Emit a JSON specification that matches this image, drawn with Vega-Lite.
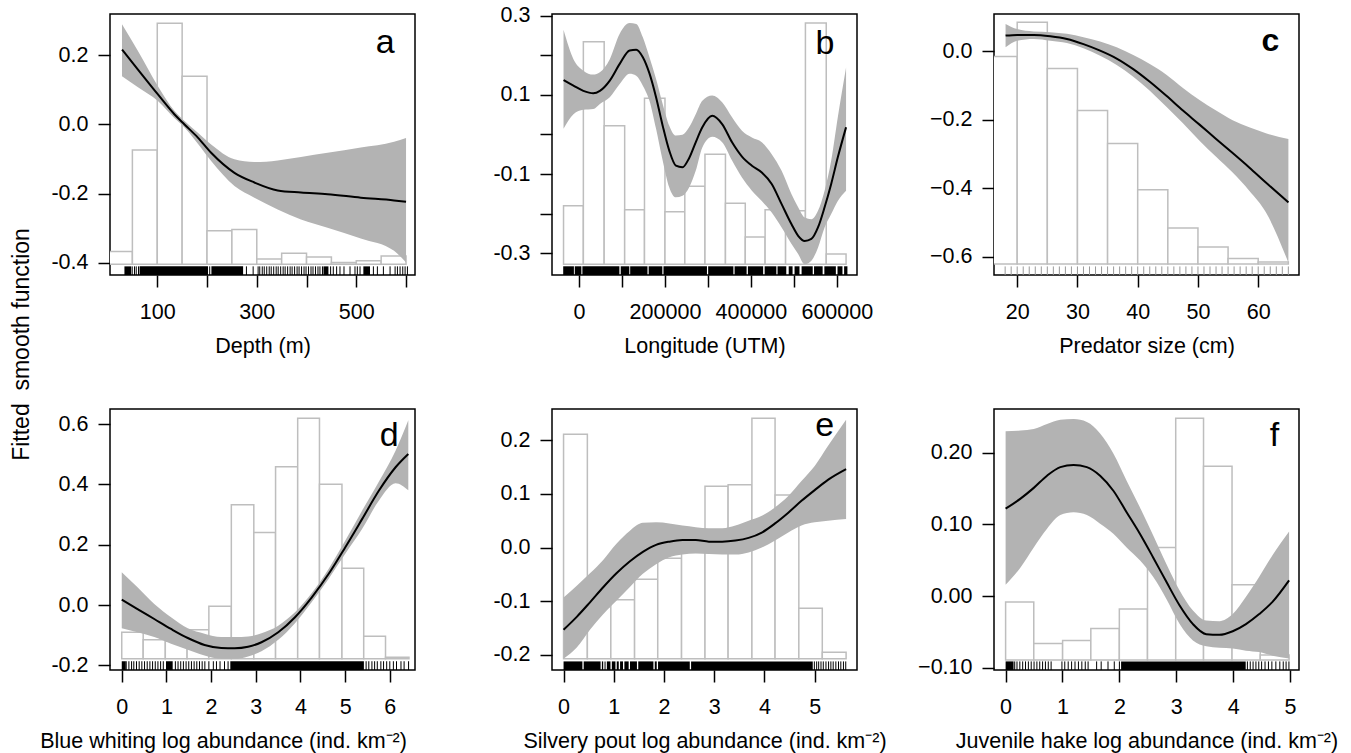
{
"$schema": "https://vega.github.io/schema/vega-lite/v6.json",
"padding": {"left": 9, "top": 3, "right": 5, "bottom": 5},
"background": "white",
"config": {
  "font": "Liberation Sans",
  "view": {"stroke": "black", "strokeWidth": 1.5},
  "axis": {"domain": false, "grid": false, "tickColor": "black", "tickWidth": 1.5, "tickSize": 12, "labelFontSize": 21.5, "labelColor": "black", "labelFont": "Liberation Sans", "titleFont": "Liberation Sans", "titleFontSize": 21.5, "titleFontWeight": "normal", "titleColor": "black", "labelPadding": 10, "labelFlush": false, "labelOverlap": false, "titlePadding": 13},
  "axisX": {"labelPadding": 14}
},
"datasets": {
  "ha": [{"x0":0,"x1":50,"top":-0.368},{"x0":50,"x1":100,"top":-0.074},{"x0":100,"x1":150,"top":0.293},{"x0":150,"x1":200,"top":0.140},{"x0":200,"x1":250,"top":-0.308},{"x0":250,"x1":300,"top":-0.304},{"x0":300,"x1":350,"top":-0.390},{"x0":350,"x1":400,"top":-0.373},{"x0":400,"x1":450,"top":-0.384},{"x0":450,"x1":500,"top":-0.400},{"x0":500,"x1":550,"top":-0.395},{"x0":550,"x1":600,"top":-0.381}],
  "ca": [{"x":29.1,"fit":0.217,"lo":0.140,"hi":0.290},{"x":61.2,"fit":0.159,"lo":0.108,"hi":0.213},{"x":101.3,"fit":0.087,"lo":0.068,"hi":0.111},{"x":134.8,"fit":0.029,"lo":0.018,"hi":0.039},{"x":154.8,"fit":0.000,"lo":-0.009,"hi":0.010},{"x":181.6,"fit":-0.038,"lo":-0.056,"hi":-0.024},{"x":208.3,"fit":-0.082,"lo":-0.106,"hi":-0.058},{"x":255.1,"fit":-0.140,"lo":-0.178,"hi":-0.101},{"x":295.2,"fit":-0.168,"lo":-0.212,"hi":-0.109},{"x":342.0,"fit":-0.191,"lo":-0.246,"hi":-0.104},{"x":388.8,"fit":-0.197,"lo":-0.275,"hi":-0.094},{"x":442.2,"fit":-0.202,"lo":-0.299,"hi":-0.082},{"x":509.1,"fit":-0.212,"lo":-0.330,"hi":-0.067},{"x":575.9,"fit":-0.220,"lo":-0.366,"hi":-0.050},{"x":600.0,"fit":-0.224,"lo":-0.400,"hi":-0.039}],
  "ra": [{"s":34,"e":47.6},{"s":64.4,"e":202},{"s":208.8,"e":272.5},{"s":434,"e":444},{"s":514.2,"e":527.6},{"t":49.6},{"t":54.3},{"t":57.7},{"t":62.3},{"t":205.4},{"t":279.2},{"t":292.7},{"t":302.7},{"t":306},{"t":311},{"t":315},{"t":320},{"t":325},{"t":329},{"t":334},{"t":339},{"t":343},{"t":348},{"t":353},{"t":357},{"t":362},{"t":367},{"t":371},{"t":376},{"t":381},{"t":385},{"t":390},{"t":395},{"t":399},{"t":404},{"t":409},{"t":413},{"t":418},{"t":423},{"t":427},{"t":432},{"t":448.4},{"t":453.8},{"t":460.5},{"t":467.2},{"t":475.3},{"t":487.4},{"t":497.4},{"t":502.1},{"t":507.5},{"t":534.4},{"t":542.4},{"t":554.5},{"t":567.9},{"t":578},{"t":582.7},{"t":588},{"t":593.4},{"t":598.1},{"t":602.8}],
  "hb": [{"x0":-36154,"x1":10000,"top":-0.180},{"x0":10000,"x1":58462,"top":0.234},{"x0":58462,"x1":106154,"top":0.022},{"x0":106154,"x1":152308,"top":-0.190},{"x0":152308,"x1":200000,"top":0.091},{"x0":200000,"x1":246154,"top":-0.195},{"x0":246154,"x1":293077,"top":-0.131},{"x0":293077,"x1":340769,"top":-0.050},{"x0":340769,"x1":386923,"top":-0.174},{"x0":386923,"x1":433077,"top":-0.259},{"x0":433077,"x1":480769,"top":-0.190},{"x0":480769,"x1":526923,"top":-0.193},{"x0":526923,"x1":575385,"top":0.281},{"x0":575385,"x1":621538,"top":-0.302}],
  "cb": [{"x":-36154,"fit":0.137,"lo":0.014,"hi":0.264},{"x":-13077,"fit":0.123,"lo":0.051,"hi":0.190},{"x":10000,"fit":0.110,"lo":0.062,"hi":0.161},{"x":33077,"fit":0.104,"lo":0.064,"hi":0.151},{"x":48462,"fit":0.110,"lo":0.077,"hi":0.157},{"x":71538,"fit":0.136,"lo":0.094,"hi":0.190},{"x":94615,"fit":0.178,"lo":0.127,"hi":0.254},{"x":117692,"fit":0.212,"lo":0.153,"hi":0.281},{"x":133077,"fit":0.214,"lo":0.148,"hi":0.279},{"x":148462,"fit":0.195,"lo":0.123,"hi":0.245},{"x":163846,"fit":0.154,"lo":0.085,"hi":0.195},{"x":179231,"fit":0.094,"lo":0.014,"hi":0.140},{"x":194615,"fit":0.022,"lo":-0.066,"hi":0.077},{"x":210000,"fit":-0.041,"lo":-0.134,"hi":0.022},{"x":225385,"fit":-0.079,"lo":-0.159,"hi":-0.003},{"x":240769,"fit":-0.083,"lo":-0.155,"hi":-0.001},{"x":256154,"fit":-0.060,"lo":-0.134,"hi":0.018},{"x":271538,"fit":-0.020,"lo":-0.092,"hi":0.051},{"x":286923,"fit":0.018,"lo":-0.033,"hi":0.085},{"x":310000,"fit":0.047,"lo":-0.006,"hi":0.098},{"x":333077,"fit":0.026,"lo":-0.020,"hi":0.081},{"x":356154,"fit":-0.020,"lo":-0.066,"hi":0.043},{"x":379231,"fit":-0.056,"lo":-0.109,"hi":0.009},{"x":402308,"fit":-0.079,"lo":-0.142,"hi":-0.008},{"x":425385,"fit":-0.096,"lo":-0.168,"hi":-0.020},{"x":448462,"fit":-0.125,"lo":-0.197,"hi":-0.050},{"x":471538,"fit":-0.176,"lo":-0.235,"hi":-0.092},{"x":494615,"fit":-0.227,"lo":-0.277,"hi":-0.151},{"x":510000,"fit":-0.256,"lo":-0.302,"hi":-0.184},{"x":525385,"fit":-0.269,"lo":-0.328,"hi":-0.210},{"x":540769,"fit":-0.264,"lo":-0.319,"hi":-0.214},{"x":556154,"fit":-0.235,"lo":-0.286,"hi":-0.193},{"x":571538,"fit":-0.184,"lo":-0.235,"hi":-0.142},{"x":586923,"fit":-0.125,"lo":-0.201,"hi":-0.066},{"x":602308,"fit":-0.058,"lo":-0.168,"hi":0.043},{"x":621538,"fit":0.018,"lo":-0.142,"hi":0.169}],
  "rb": [{"s":-36928,"e":-12000},{"s":-10000,"e":5385},{"s":7692,"e":93860},{"s":97000,"e":116940},{"s":119000,"e":159252},{"s":162000,"e":193872},{"s":196500,"e":297732},{"s":300500,"e":359280},{"s":362000,"e":390052},{"s":393000,"e":428520},{"s":432000,"e":459292},{"s":462000,"e":482372},{"s":488000,"e":497000},{"s":501600,"e":513140},{"s":518000,"e":543920},{"s":547000,"e":567000},{"s":571000,"e":597772},{"s":601620,"e":613160},{"s":617000,"e":624700}],
  "hc": [{"x0":15,"x1":20,"top":-0.015},{"x0":20,"x1":25,"top":0.085},{"x0":25,"x1":30,"top":-0.050},{"x0":30,"x1":35,"top":-0.173},{"x0":35,"x1":40,"top":-0.269},{"x0":40,"x1":45,"top":-0.404},{"x0":45,"x1":50,"top":-0.516},{"x0":50,"x1":55,"top":-0.571},{"x0":55,"x1":60,"top":-0.605},{"x0":60,"x1":65,"top":-0.615}],
  "cc": [{"x":18.07,"fit":0.046,"lo":0.012,"hi":0.080},{"x":20.00,"fit":0.048,"lo":0.031,"hi":0.065},{"x":22.75,"fit":0.048,"lo":0.036,"hi":0.058},{"x":25.50,"fit":0.044,"lo":0.031,"hi":0.056},{"x":28.25,"fit":0.036,"lo":0.024,"hi":0.051},{"x":31.00,"fit":0.021,"lo":0.009,"hi":0.041},{"x":33.76,"fit":0.002,"lo":-0.013,"hi":0.029},{"x":36.51,"fit":-0.021,"lo":-0.040,"hi":0.012},{"x":39.26,"fit":-0.052,"lo":-0.074,"hi":-0.011},{"x":42.01,"fit":-0.089,"lo":-0.115,"hi":-0.037},{"x":44.76,"fit":-0.130,"lo":-0.162,"hi":-0.068},{"x":47.51,"fit":-0.173,"lo":-0.210,"hi":-0.107},{"x":50.26,"fit":-0.214,"lo":-0.261,"hi":-0.142},{"x":53.01,"fit":-0.256,"lo":-0.308,"hi":-0.173},{"x":55.76,"fit":-0.297,"lo":-0.354,"hi":-0.201},{"x":58.51,"fit":-0.339,"lo":-0.407,"hi":-0.222},{"x":61.27,"fit":-0.383,"lo":-0.470,"hi":-0.239},{"x":65.01,"fit":-0.441,"lo":-0.617,"hi":-0.256}],
  "rc": [{"t":18},{"t":19},{"t":20},{"t":21},{"t":22},{"t":23},{"t":24},{"t":25},{"t":26},{"t":27},{"t":28},{"t":29},{"t":30},{"t":31},{"t":32},{"t":33},{"t":34},{"t":35},{"t":36},{"t":37},{"t":38},{"t":39},{"t":40},{"t":41},{"t":42},{"t":43},{"t":44},{"t":45},{"t":46},{"t":47},{"t":48},{"t":49},{"t":50},{"t":51},{"t":52},{"t":53},{"t":54},{"t":55},{"t":56},{"t":57},{"t":58},{"t":59},{"t":60},{"t":61},{"t":62},{"t":63},{"t":64},{"t":65}],
  "hd": [{"x0":0,"x1":0.480,"top":-0.09},{"x0":0.480,"x1":0.975,"top":-0.115},{"x0":0.975,"x1":1.463,"top":-0.12},{"x0":1.463,"x1":1.950,"top":-0.082},{"x0":1.950,"x1":2.453,"top":-0.004},{"x0":2.453,"x1":2.956,"top":0.333},{"x0":2.956,"x1":3.443,"top":0.241},{"x0":3.443,"x1":3.938,"top":0.459},{"x0":3.938,"x1":4.426,"top":0.619},{"x0":4.426,"x1":4.929,"top":0.401},{"x0":4.929,"x1":5.416,"top":0.122},{"x0":5.416,"x1":5.904,"top":-0.103},{"x0":5.904,"x1":6.429,"top":-0.173}],
  "cd": [{"x":0.000,"fit":0.018,"lo":-0.077,"hi":0.109},{"x":0.353,"fit":-0.013,"lo":-0.090,"hi":0.059},{"x":0.728,"fit":-0.046,"lo":-0.106,"hi":0.004},{"x":1.103,"fit":-0.079,"lo":-0.128,"hi":-0.040},{"x":1.478,"fit":-0.109,"lo":-0.148,"hi":-0.077},{"x":1.853,"fit":-0.132,"lo":-0.167,"hi":-0.095},{"x":2.228,"fit":-0.142,"lo":-0.178,"hi":-0.106},{"x":2.528,"fit":-0.143,"lo":-0.178,"hi":-0.106},{"x":2.828,"fit":-0.138,"lo":-0.170,"hi":-0.104},{"x":3.128,"fit":-0.123,"lo":-0.153,"hi":-0.093},{"x":3.503,"fit":-0.090,"lo":-0.115,"hi":-0.068},{"x":3.878,"fit":-0.040,"lo":-0.060,"hi":-0.024},{"x":4.254,"fit":0.026,"lo":0.010,"hi":0.040},{"x":4.629,"fit":0.103,"lo":0.087,"hi":0.120},{"x":5.004,"fit":0.192,"lo":0.170,"hi":0.214},{"x":5.379,"fit":0.285,"lo":0.252,"hi":0.313},{"x":5.754,"fit":0.379,"lo":0.346,"hi":0.409},{"x":6.129,"fit":0.457,"lo":0.404,"hi":0.512},{"x":6.414,"fit":0.501,"lo":0.381,"hi":0.613}],
  "rd": [{"s":0,"e":0.09},{"s":0.99,"e":1.14},{"s":2.43,"e":5.42},{"t":0.10},{"t":0.16},{"t":0.22},{"t":0.27},{"t":0.33},{"t":0.39},{"t":0.45},{"t":0.51},{"t":0.57},{"t":0.63},{"t":0.69},{"t":0.75},{"t":0.81},{"t":0.87},{"t":0.93},{"t":1.2},{"t":1.26},{"t":1.32},{"t":1.38},{"t":1.44},{"t":1.5},{"t":1.56},{"t":1.62},{"t":1.68},{"t":1.74},{"t":1.8},{"t":1.86},{"t":1.95},{"t":2.05},{"t":2.12},{"t":2.2},{"t":2.3},{"t":2.38},{"t":5.47},{"t":5.53},{"t":5.6},{"t":5.66},{"t":5.72},{"t":5.8},{"t":5.86},{"t":5.93},{"t":6.0},{"t":6.08},{"t":6.15},{"t":6.25},{"t":6.32},{"t":6.42}],
  "he": [{"x0":0,"x1":0.474,"top":0.211},{"x0":0.474,"x1":0.941,"top":-0.110},{"x0":0.941,"x1":1.414,"top":-0.097},{"x0":1.414,"x1":1.875,"top":-0.059},{"x0":1.875,"x1":2.349,"top":-0.02},{"x0":2.349,"x1":2.816,"top":0.0},{"x0":2.816,"x1":3.276,"top":0.114},{"x0":3.276,"x1":3.750,"top":0.117},{"x0":3.750,"x1":4.211,"top":0.241},{"x0":4.211,"x1":4.684,"top":0.098},{"x0":4.684,"x1":5.151,"top":-0.113},{"x0":5.151,"x1":5.625,"top":-0.195}],
  "ce": [{"x":0.000,"fit":-0.153,"lo":-0.207,"hi":-0.093},{"x":0.263,"fit":-0.129,"lo":-0.186,"hi":-0.071},{"x":0.526,"fit":-0.102,"lo":-0.153,"hi":-0.048},{"x":0.789,"fit":-0.074,"lo":-0.124,"hi":-0.023},{"x":1.053,"fit":-0.048,"lo":-0.099,"hi":0.007},{"x":1.316,"fit":-0.026,"lo":-0.074,"hi":0.031},{"x":1.579,"fit":-0.008,"lo":-0.049,"hi":0.046},{"x":1.842,"fit":0.005,"lo":-0.031,"hi":0.047},{"x":2.105,"fit":0.011,"lo":-0.018,"hi":0.045},{"x":2.368,"fit":0.014,"lo":-0.013,"hi":0.041},{"x":2.632,"fit":0.014,"lo":-0.011,"hi":0.038},{"x":2.895,"fit":0.011,"lo":-0.012,"hi":0.036},{"x":3.158,"fit":0.011,"lo":-0.013,"hi":0.036},{"x":3.421,"fit":0.013,"lo":-0.013,"hi":0.041},{"x":3.684,"fit":0.018,"lo":-0.009,"hi":0.050},{"x":3.947,"fit":0.028,"lo":0.000,"hi":0.059},{"x":4.211,"fit":0.045,"lo":0.013,"hi":0.075},{"x":4.474,"fit":0.065,"lo":0.028,"hi":0.096},{"x":4.737,"fit":0.087,"lo":0.041,"hi":0.124},{"x":5.000,"fit":0.107,"lo":0.047,"hi":0.152},{"x":5.263,"fit":0.126,"lo":0.050,"hi":0.189},{"x":5.625,"fit":0.146,"lo":0.053,"hi":0.238}],
  "re": [{"s":0,"e":0.375},{"s":0.401,"e":0.737},{"s":0.763,"e":0.789},{"s":0.816,"e":0.836},{"s":0.862,"e":0.934},{"s":0.961,"e":1.033},{"s":1.059,"e":1.099},{"s":1.125,"e":1.184},{"s":1.211,"e":1.296},{"s":1.323,"e":1.461},{"s":1.487,"e":1.789},{"s":1.816,"e":1.855},{"s":1.881,"e":2.513},{"s":2.539,"e":4.961},{"t":4.993},{"t":5.039},{"t":5.079},{"t":5.125},{"t":5.171},{"t":5.224},{"t":5.276},{"t":5.322},{"t":5.368},{"t":5.421},{"t":5.474},{"t":5.520},{"t":5.572},{"t":5.618}],
  "hf": [{"x0":0,"x1":0.495,"top":-0.008},{"x0":0.495,"x1":1.002,"top":-0.066},{"x0":1.002,"x1":1.498,"top":-0.062},{"x0":1.498,"x1":1.999,"top":-0.045},{"x0":1.999,"x1":2.494,"top":-0.018},{"x0":2.494,"x1":2.990,"top":0.068},{"x0":2.990,"x1":3.479,"top":0.248},{"x0":3.479,"x1":3.980,"top":0.181},{"x0":3.980,"x1":4.476,"top":0.016},{"x0":4.476,"x1":4.983,"top":-0.082}],
  "cf": [{"x":0.000,"fit":0.122,"lo":0.016,"hi":0.230},{"x":0.262,"fit":0.136,"lo":0.040,"hi":0.231},{"x":0.495,"fit":0.151,"lo":0.068,"hi":0.233},{"x":0.728,"fit":0.168,"lo":0.094,"hi":0.240},{"x":0.962,"fit":0.180,"lo":0.113,"hi":0.246},{"x":1.195,"fit":0.183,"lo":0.117,"hi":0.247},{"x":1.428,"fit":0.180,"lo":0.113,"hi":0.243},{"x":1.661,"fit":0.168,"lo":0.101,"hi":0.227},{"x":1.894,"fit":0.147,"lo":0.087,"hi":0.199},{"x":2.127,"fit":0.117,"lo":0.068,"hi":0.161},{"x":2.360,"fit":0.087,"lo":0.050,"hi":0.124},{"x":2.593,"fit":0.054,"lo":0.027,"hi":0.085},{"x":2.826,"fit":0.020,"lo":-0.004,"hi":0.045},{"x":3.059,"fit":-0.013,"lo":-0.039,"hi":0.008},{"x":3.293,"fit":-0.039,"lo":-0.062,"hi":-0.020},{"x":3.526,"fit":-0.053,"lo":-0.070,"hi":-0.034},{"x":3.759,"fit":-0.054,"lo":-0.072,"hi":-0.035},{"x":3.992,"fit":-0.049,"lo":-0.073,"hi":-0.025},{"x":4.225,"fit":-0.039,"lo":-0.076,"hi":-0.001},{"x":4.458,"fit":-0.025,"lo":-0.078,"hi":0.027},{"x":4.691,"fit":-0.008,"lo":-0.083,"hi":0.057},{"x":4.983,"fit":0.022,"lo":-0.087,"hi":0.090}],
  "rf": [{"s":0,"e":0.14},{"s":2.03,"e":4.22},{"t":0.16},{"t":0.2},{"t":0.25},{"t":0.3},{"t":0.35},{"t":0.4},{"t":0.45},{"t":0.5},{"t":0.55},{"t":0.6},{"t":0.65},{"t":0.7},{"t":0.75},{"t":0.8},{"t":0.99},{"t":1.04},{"t":1.1},{"t":1.16},{"t":1.22},{"t":1.28},{"t":1.34},{"t":1.4},{"t":1.45},{"t":1.6},{"t":1.68},{"t":1.8},{"t":1.91},{"t":2.0},{"t":4.25},{"t":4.3},{"t":4.35},{"t":4.4},{"t":4.45},{"t":4.5},{"t":4.56},{"t":4.62},{"t":4.68},{"t":4.75},{"t":4.82},{"t":4.88},{"t":4.93},{"t":4.98}]
},
"columns": 3,
"spacing": {"row": 134, "column": 137},
"bounds": "flush",
"concat": [
{
 "width": 305, "height": 261,
 "layer": [
  {"data": {"name": "ha"}, "mark": {"type": "rect", "fill": "white", "stroke": "#bebebe", "strokeWidth": 1.5, "clip": true},
   "encoding": {
    "x": {"field": "x0", "type": "quantitative", "scale": {"domain": [5, 618], "nice": false, "zero": false}, "axis": {"title": "Depth (m)", "values": [100,200,300,400,500,600], "labelExpr": "datum.value == 100 || datum.value == 300 || datum.value == 500 ? datum.label : ''"}},
    "x2": {"field": "x1"},
    "y": {"field": "top", "type": "quantitative", "scale": {"domain": [-0.436, 0.32], "nice": false, "zero": false}, "axis": {"title": "Fitted\u00a0 smooth function", "titleFontSize": 23, "titleX": -89, "titleY": 330, "titleBaseline": "middle", "values": [-0.4,-0.3,-0.2,-0.1,0,0.1,0.2,0.3], "format": ".1f", "labelExpr": "abs(round(datum.value*10)) % 2 == 0 ? replace(datum.label, '\u2212', '-') : ''"}},
    "y2": {"datum": -0.405}}},
  {"data": {"name": "ca"}, "mark": {"type": "area", "color": "#b3b3b3", "opacity": 1, "interpolate": "monotone", "clip": true},
   "encoding": {"x": {"field": "x", "type": "quantitative"}, "y": {"field": "lo", "type": "quantitative"}, "y2": {"field": "hi"}}},
  {"data": {"name": "ca"}, "mark": {"type": "line", "color": "black", "strokeWidth": 2, "interpolate": "monotone", "clip": true},
   "encoding": {"x": {"field": "x", "type": "quantitative"}, "y": {"field": "fit", "type": "quantitative"}}},
  {"data": {"name": "ra"}, "transform": [{"filter": "isValid(datum.s)"}], "mark": {"type": "rect", "color": "black", "clip": true},
   "encoding": {"x": {"field": "s", "type": "quantitative"}, "x2": {"field": "e"}, "y": {"datum": -0.436}, "y2": {"datum": -0.411}}},
  {"data": {"name": "ra"}, "transform": [{"filter": "isValid(datum.t)"}], "mark": {"type": "rule", "color": "black", "strokeWidth": 1, "clip": true},
   "encoding": {"x": {"field": "t", "type": "quantitative"}, "y": {"datum": -0.436}, "y2": {"datum": -0.411}}},
  {"data": {"values": [{"x": 577, "y": 0.208, "k": "a"}]}, "mark": {"type": "text", "align": "right", "baseline": "alphabetic", "fontSize": 34, "color": "black"},
   "encoding": {"x": {"field": "x", "type": "quantitative"}, "y": {"field": "y", "type": "quantitative"}, "text": {"field": "k"}}}
 ]
},
{
 "width": 305, "height": 261,
 "layer": [
  {"data": {"name": "hb"}, "mark": {"type": "rect", "fill": "white", "stroke": "#bebebe", "strokeWidth": 1.5, "clip": true},
   "encoding": {
    "x": {"field": "x0", "type": "quantitative", "scale": {"domain": [-63000, 647000], "nice": false, "zero": false}, "axis": {"title": "Longitude (UTM)", "values": [0,100000,200000,300000,400000,500000,600000], "format": "d", "labelExpr": "datum.value % 200000 == 0 ? datum.label : ''"}},
    "x2": {"field": "x1"},
    "y": {"field": "top", "type": "quantitative", "scale": {"domain": [-0.355, 0.304], "nice": false, "zero": false}, "axis": {"title": null, "values": [-0.3,-0.2,-0.1,0,0.1,0.2,0.3], "format": ".1f", "labelExpr": "abs(round(datum.value*10)) % 2 == 1 ? replace(datum.label, '\u2212', '-') : ''"}},
    "y2": {"datum": -0.328}}},
  {"data": {"name": "cb"}, "mark": {"type": "area", "color": "#b3b3b3", "opacity": 1, "interpolate": "monotone", "clip": true},
   "encoding": {"x": {"field": "x", "type": "quantitative"}, "y": {"field": "lo", "type": "quantitative"}, "y2": {"field": "hi"}}},
  {"data": {"name": "cb"}, "mark": {"type": "line", "color": "black", "strokeWidth": 2, "interpolate": "monotone", "clip": true},
   "encoding": {"x": {"field": "x", "type": "quantitative"}, "y": {"field": "fit", "type": "quantitative"}}},
  {"data": {"name": "rb"}, "transform": [{"filter": "isValid(datum.s)"}], "mark": {"type": "rect", "color": "black", "clip": true},
   "encoding": {"x": {"field": "s", "type": "quantitative"}, "x2": {"field": "e"}, "y": {"datum": -0.355}, "y2": {"datum": -0.333}}},
  {"data": {"values": [{"x": 594615, "y": 0.203, "k": "b"}]}, "mark": {"type": "text", "align": "right", "baseline": "alphabetic", "fontSize": 34, "color": "black"},
   "encoding": {"x": {"field": "x", "type": "quantitative"}, "y": {"field": "y", "type": "quantitative"}, "text": {"field": "k"}}}
 ]
},
{
 "width": 305, "height": 261,
 "layer": [
  {"data": {"name": "hc"}, "mark": {"type": "rect", "fill": "white", "stroke": "#bebebe", "strokeWidth": 1.5, "clip": true},
   "encoding": {
    "x": {"field": "x0", "type": "quantitative", "scale": {"domain": [16.15, 66.77], "nice": false, "zero": false}, "axis": {"title": "Predator size (cm)", "values": [20,30,40,50,60]}},
    "x2": {"field": "x1"},
    "y": {"field": "top", "type": "quantitative", "scale": {"domain": [-0.653, 0.109], "nice": false, "zero": false}, "axis": {"title": null, "values": [-0.6,-0.5,-0.4,-0.3,-0.2,-0.1,0,0.1], "format": ".1f", "labelExpr": "abs(round(datum.value*10)) % 2 == 0 ? datum.label : ''"}},
    "y2": {"datum": -0.621}}},
  {"data": {"name": "cc"}, "mark": {"type": "area", "color": "#b3b3b3", "opacity": 1, "interpolate": "monotone", "clip": true},
   "encoding": {"x": {"field": "x", "type": "quantitative"}, "y": {"field": "lo", "type": "quantitative"}, "y2": {"field": "hi"}}},
  {"data": {"name": "cc"}, "mark": {"type": "line", "color": "black", "strokeWidth": 2, "interpolate": "monotone", "clip": true},
   "encoding": {"x": {"field": "x", "type": "quantitative"}, "y": {"field": "fit", "type": "quantitative"}}},
  {"data": {"name": "rc"}, "mark": {"type": "rule", "color": "#9a9a9a", "strokeWidth": 1, "clip": true},
   "encoding": {"x": {"field": "t", "type": "quantitative"}, "y": {"datum": -0.653}, "y2": {"datum": -0.628}}},
  {"data": {"values": [{"x": 63.5, "y": 0.002, "k": "c"}]}, "mark": {"type": "text", "align": "right", "baseline": "alphabetic", "fontSize": 32, "fontWeight": "bold", "color": "black"},
   "encoding": {"x": {"field": "x", "type": "quantitative"}, "y": {"field": "y", "type": "quantitative"}, "text": {"field": "k"}}}
 ]
},
{
 "width": 305, "height": 261,
 "layer": [
  {"data": {"name": "hd"}, "mark": {"type": "rect", "fill": "white", "stroke": "#bebebe", "strokeWidth": 1.5, "clip": true},
   "encoding": {
    "x": {"field": "x0", "type": "quantitative", "scale": {"domain": [-0.263, 6.564], "nice": false, "zero": false}, "axis": {"title": "Blue whiting log abundance (ind. km⁻²)", "titleX": 113, "values": [0,1,2,3,4,5,6], "format": "d"}},
    "x2": {"field": "x1"},
    "y": {"field": "top", "type": "quantitative", "scale": {"domain": [-0.215, 0.65], "nice": false, "zero": false}, "axis": {"title": null, "values": [-0.2,0,0.2,0.4,0.6], "format": ".1f", "labelExpr": "replace(datum.label, '\u2212', '-')"}},
    "y2": {"datum": -0.178}}},
  {"data": {"name": "cd"}, "mark": {"type": "area", "color": "#b3b3b3", "opacity": 1, "interpolate": "monotone", "clip": true},
   "encoding": {"x": {"field": "x", "type": "quantitative"}, "y": {"field": "lo", "type": "quantitative"}, "y2": {"field": "hi"}}},
  {"data": {"name": "cd"}, "mark": {"type": "line", "color": "black", "strokeWidth": 2, "interpolate": "monotone", "clip": true},
   "encoding": {"x": {"field": "x", "type": "quantitative"}, "y": {"field": "fit", "type": "quantitative"}}},
  {"data": {"name": "rd"}, "transform": [{"filter": "isValid(datum.s)"}], "mark": {"type": "rect", "color": "black", "clip": true},
   "encoding": {"x": {"field": "s", "type": "quantitative"}, "x2": {"field": "e"}, "y": {"datum": -0.215}, "y2": {"datum": -0.186}}},
  {"data": {"name": "rd"}, "transform": [{"filter": "isValid(datum.t)"}], "mark": {"type": "rule", "color": "black", "strokeWidth": 1, "clip": true},
   "encoding": {"x": {"field": "t", "type": "quantitative"}, "y": {"datum": -0.215}, "y2": {"datum": -0.186}}},
  {"data": {"values": [{"x": 6.20, "y": 0.528, "k": "d"}]}, "mark": {"type": "text", "align": "right", "baseline": "alphabetic", "fontSize": 34, "color": "black"},
   "encoding": {"x": {"field": "x", "type": "quantitative"}, "y": {"field": "y", "type": "quantitative"}, "text": {"field": "k"}}}
 ]
},
{
 "width": 305, "height": 261,
 "layer": [
  {"data": {"name": "he"}, "mark": {"type": "rect", "fill": "white", "stroke": "#bebebe", "strokeWidth": 1.5, "clip": true},
   "encoding": {
    "x": {"field": "x0", "type": "quantitative", "scale": {"domain": [-0.23, 5.842], "nice": false, "zero": false}, "axis": {"title": "Silvery pout log abundance (ind. km⁻²)", "values": [0,1,2,3,4,5], "format": "d"}},
    "x2": {"field": "x1"},
    "y": {"field": "top", "type": "quantitative", "scale": {"domain": [-0.228, 0.258], "nice": false, "zero": false}, "axis": {"title": null, "values": [-0.2,-0.1,0,0.1,0.2], "format": ".1f", "labelExpr": "replace(datum.label, '\u2212', '-')"}},
    "y2": {"datum": -0.207}}},
  {"data": {"name": "ce"}, "mark": {"type": "area", "color": "#b3b3b3", "opacity": 1, "interpolate": "monotone", "clip": true},
   "encoding": {"x": {"field": "x", "type": "quantitative"}, "y": {"field": "lo", "type": "quantitative"}, "y2": {"field": "hi"}}},
  {"data": {"name": "ce"}, "mark": {"type": "line", "color": "black", "strokeWidth": 2, "interpolate": "monotone", "clip": true},
   "encoding": {"x": {"field": "x", "type": "quantitative"}, "y": {"field": "fit", "type": "quantitative"}}},
  {"data": {"name": "re"}, "transform": [{"filter": "isValid(datum.s)"}], "mark": {"type": "rect", "color": "black", "clip": true},
   "encoding": {"x": {"field": "s", "type": "quantitative"}, "x2": {"field": "e"}, "y": {"datum": -0.228}, "y2": {"datum": -0.212}}},
  {"data": {"name": "re"}, "transform": [{"filter": "isValid(datum.t)"}], "mark": {"type": "rule", "color": "black", "strokeWidth": 1, "clip": true},
   "encoding": {"x": {"field": "t", "type": "quantitative"}, "y": {"datum": -0.228}, "y2": {"datum": -0.212}}},
  {"data": {"values": [{"x": 5.39, "y": 0.208, "k": "e"}]}, "mark": {"type": "text", "align": "right", "baseline": "alphabetic", "fontSize": 34, "color": "black"},
   "encoding": {"x": {"field": "x", "type": "quantitative"}, "y": {"field": "y", "type": "quantitative"}, "text": {"field": "k"}}}
 ]
},
{
 "width": 305, "height": 261,
 "layer": [
  {"data": {"name": "hf"}, "mark": {"type": "rect", "fill": "white", "stroke": "#bebebe", "strokeWidth": 1.5, "clip": true},
   "encoding": {
    "x": {"field": "x0", "type": "quantitative", "scale": {"domain": [-0.204, 5.157], "nice": false, "zero": false}, "axis": {"title": "Juvenile hake log abundance (ind. km⁻²)", "values": [0,1,2,3,4,5], "format": "d"}},
    "x2": {"field": "x1"},
    "y": {"field": "top", "type": "quantitative", "scale": {"domain": [-0.103, 0.261], "nice": false, "zero": false}, "axis": {"title": null, "values": [-0.1,-0.05,0,0.05,0.1,0.15,0.2,0.25], "format": ".2f", "labelExpr": "abs(round(datum.value*20)) % 2 == 0 ? datum.label : ''"}},
    "y2": {"datum": -0.089}}},
  {"data": {"name": "cf"}, "mark": {"type": "area", "color": "#b3b3b3", "opacity": 1, "interpolate": "monotone", "clip": true},
   "encoding": {"x": {"field": "x", "type": "quantitative"}, "y": {"field": "lo", "type": "quantitative"}, "y2": {"field": "hi"}}},
  {"data": {"name": "cf"}, "mark": {"type": "line", "color": "black", "strokeWidth": 2, "interpolate": "monotone", "clip": true},
   "encoding": {"x": {"field": "x", "type": "quantitative"}, "y": {"field": "fit", "type": "quantitative"}}},
  {"data": {"name": "rf"}, "transform": [{"filter": "isValid(datum.s)"}], "mark": {"type": "rect", "color": "black", "clip": true},
   "encoding": {"x": {"field": "s", "type": "quantitative"}, "x2": {"field": "e"}, "y": {"datum": -0.103}, "y2": {"datum": -0.091}}},
  {"data": {"name": "rf"}, "transform": [{"filter": "isValid(datum.t)"}], "mark": {"type": "rule", "color": "black", "strokeWidth": 1, "clip": true},
   "encoding": {"x": {"field": "t", "type": "quantitative"}, "y": {"datum": -0.103}, "y2": {"datum": -0.091}}},
  {"data": {"values": [{"x": 4.81, "y": 0.210, "k": "f"}]}, "mark": {"type": "text", "align": "right", "baseline": "alphabetic", "fontSize": 34, "color": "black"},
   "encoding": {"x": {"field": "x", "type": "quantitative"}, "y": {"field": "y", "type": "quantitative"}, "text": {"field": "k"}}}
 ]
}
]
}
